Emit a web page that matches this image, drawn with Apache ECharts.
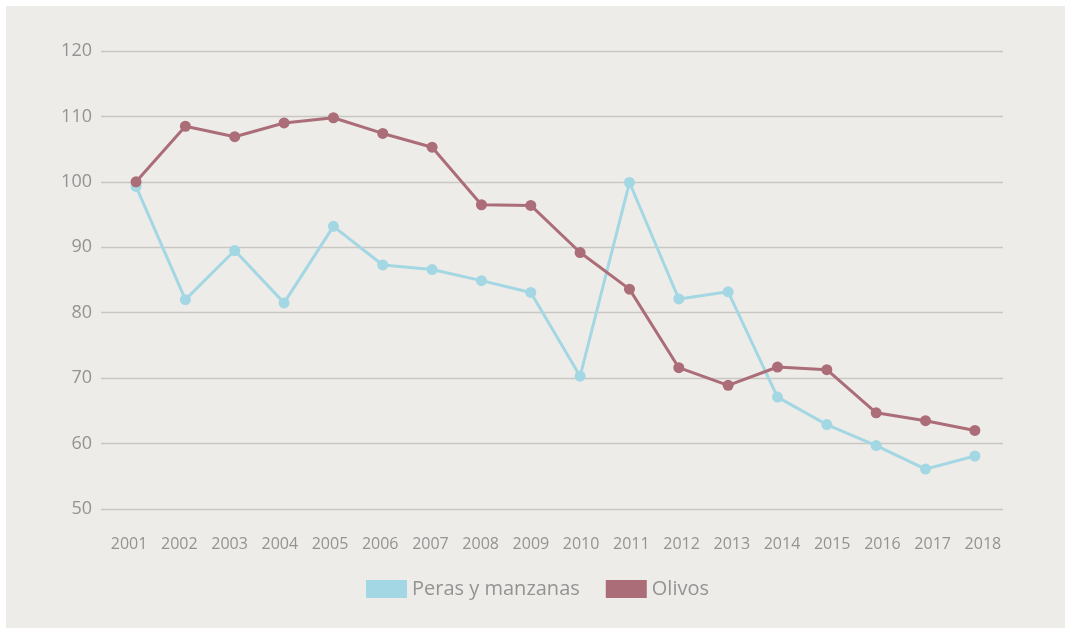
<!DOCTYPE html>
<html>
<head>
<meta charset="utf-8">
<script src="https://cdn.jsdelivr.net/npm/echarts@6/dist/echarts.min.js"></script>
<style>
  html, body { margin: 0; padding: 0; background: #ffffff; }
  #chart { position: absolute; left: 6px; top: 6px; width: 1059px; height: 622px; background: #eeece8; }
</style>
</head>
<body>
<div id="chart"></div>
<script>
// data
const years = ['2001', '2002', '2003', '2004', '2005', '2006', '2007', '2008', '2009',
  '2010', '2011', '2012', '2013', '2014', '2015', '2016', '2017', '2018']
const peras = [99.3, 82.0, 89.5, 81.5, 93.2, 87.3, 86.6, 84.9, 83.1,
  70.3, 99.9, 82.1, 83.2, 67.1, 62.9, 59.7, 56.1, 58.1]
const olivos = [100.0, 108.5, 106.9, 109.0, 109.8, 107.4, 105.3, 96.5, 96.4,
  89.2, 83.6, 71.6, 68.9, 71.7, 71.3, 64.7, 63.5, 62.0]

const textColor = '#939393'
const fontFamily = '"Open Sans", "Noto Sans", sans-serif'

const chart = echarts.init(document.getElementById('chart'))

const toPoints = (arr) => arr.map((v, i) => [Number(years[i]), v])

chart.setOption({
  backgroundColor: '#eeece8',
  animation: false,
  textStyle: { fontFamily: fontFamily },
  legend: {
    left: 355,
    top: 568,
    itemWidth: 41,
    itemHeight: 18,
    itemGap: 26,
    icon: 'rect',
    textStyle: { color: textColor, fontSize: 20, fontFamily: fontFamily },
    data: ['Peras y manzanas', 'Olivos'],
  },
  grid: [
    // plot area (grid lines + data)
    { left: 95, right: 62, top: 45, bottom: 119 },
    // year labels
    { left: 98, right: 57, top: 45, bottom: 119 },
  ],
  xAxis: [
    {
      type: 'value',
      gridIndex: 0,
      min: 2000.29,
      max: 2018.57,
      show: false,
    },
    {
      type: 'category',
      gridIndex: 1,
      data: years,
      boundaryGap: true,
      axisLine: { show: false },
      axisTick: { show: false },
      axisLabel: { color: textColor, fontSize: 16, margin: 27, interval: 0 },
    },
  ],
  yAxis: [
    {
      type: 'value',
      gridIndex: 0,
      min: 50,
      max: 120,
      interval: 10,
      axisLine: { show: false },
      axisTick: { show: false },
      axisLabel: { color: textColor, fontSize: 18, margin: 9 },
      splitLine: { lineStyle: { color: '#c9c7c4', width: 1.3 } },
    },
    {
      type: 'value',
      gridIndex: 1,
      show: false,
      splitLine: { show: false },
    },
  ],
  series: [
    {
      name: 'Peras y manzanas',
      type: 'line',
      xAxisIndex: 0,
      yAxisIndex: 0,
      data: toPoints(peras),
      symbol: 'circle',
      symbolSize: 11,
      lineStyle: { width: 3, color: '#a3d7e3' },
      itemStyle: { color: '#a3d7e3' },
    },
    {
      name: 'Olivos',
      type: 'line',
      xAxisIndex: 0,
      yAxisIndex: 0,
      data: toPoints(olivos),
      symbol: 'circle',
      symbolSize: 11,
      lineStyle: { width: 3, color: '#ab6d77' },
      itemStyle: { color: '#ab6d77' },
    },
  ],
})
</script>
</body>
</html>
